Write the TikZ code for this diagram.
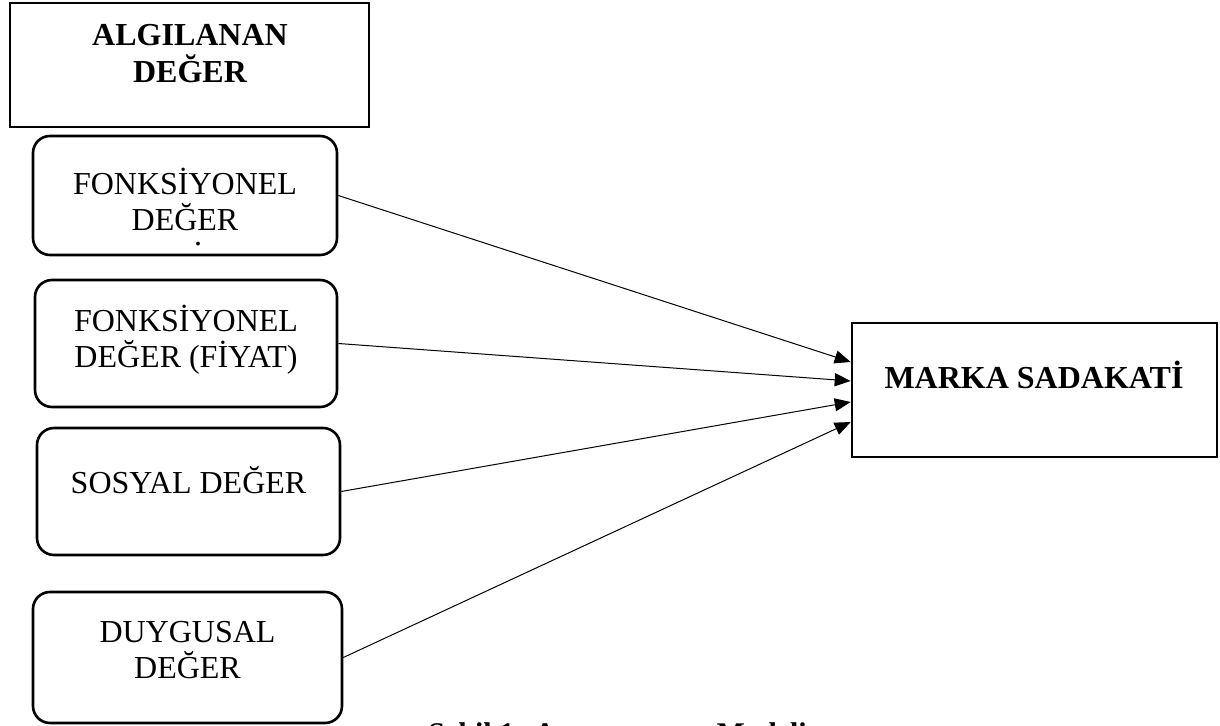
\documentclass[tikz,border=0pt]{standalone}
\usepackage{fontspec}
\setmainfont{Liberation Serif}
\usetikzlibrary{arrows.meta,calc,positioning}

\begin{document}
\begin{tikzpicture}[x=0.5pt,y=-0.5pt,
  headbox/.style={draw,line width=1.3pt,inner sep=0pt},
  valbox/.style={draw,line width=1.3pt,rounded corners=8.5pt,inner sep=0pt},
  valtext/.style={align=center,inner sep=0pt,font=\fontsize{16}{18}\selectfont},
  headtext/.style={align=center,inner sep=0pt,font=\fontsize{16}{18.5}\selectfont\bfseries},
  link/.style={line width=0.5pt,-{Triangle[length=8pt,width=6.5pt]}}]
  \useasboundingbox (0,0) rectangle (1220,726);

  \node[headbox,minimum width=179.5pt,minimum height=62pt] (algi) at (189.5,65) {};
  \node[headtext] (algi-t) at (190,54) {ALGILANAN\\DEĞER};

  \node[headbox,minimum width=182.5pt,minimum height=67pt] (marka) at (1034.5,390) {};
  \node[headtext,anchor=base] (marka-t) at (1034,389) {MARKA SADAKATİ};

  \foreach \nm/\cx/\cy/\w/\h/\ty/\txt in {
    f1/185/195.5/304/119/199/{FONKSİYONEL\\DEĞER},
    f2/186/343.5/302/127/340/{FONKSİYONEL\\DEĞER (FİYAT)},
    s3/188.5/491.5/303/127/480/{SOSYAL DEĞER},
    d4/187.5/657.5/309/131/650/{DUYGUSAL\\DEĞER}}{
    \node[valbox,minimum width=\w*0.5pt,minimum height=\h*0.5pt] (\nm) at (\cx,\cy) {};
    \node[valtext] (\nm-t) at (\cx,\ty) {\txt};
  }
  \node[valtext,anchor=base] (f1-dot) at (198,246) {.};

  \foreach \i/\dy in {1/-28,2/-9,3/12,4/32}
    \coordinate (in\i) at ($(marka.west)+(0,\dy)$);

  \foreach \src/\i in {f1/1,f2/2,s3/3,d4/4}
    \draw[link] (\src.east) -- (in\i);

  \node[headtext,font=\fontsize{15}{18}\selectfont\bfseries,anchor=base west] (cap) at (428,743) {Şekil 1: Araştırmanın Modeli};
\end{tikzpicture}
\end{document}
